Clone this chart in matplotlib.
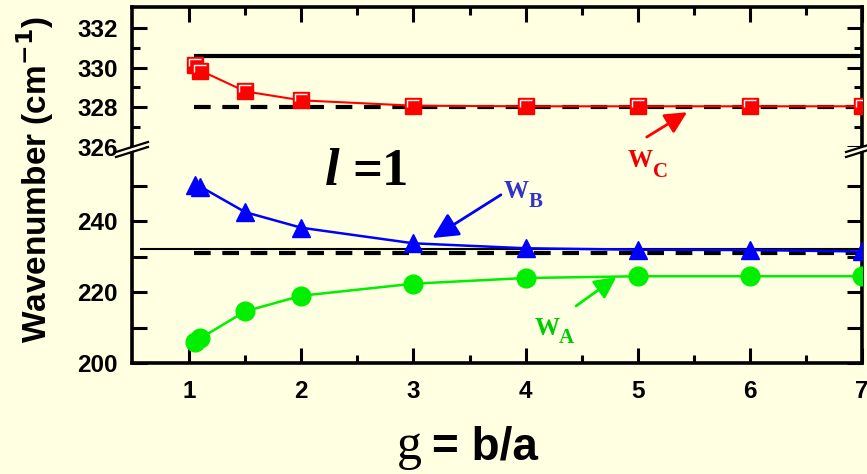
import matplotlib
matplotlib.use("Agg")
import matplotlib.pyplot as plt
from matplotlib.path import Path
from matplotlib.lines import Line2D
from matplotlib.patches import Polygon

# ---------------- data ----------------
g_C = [1.05, 1.1, 1.5, 2, 3, 4, 5, 6, 7]
w_C = [330.15, 329.85, 328.8, 328.35, 328.08, 328.05, 328.05, 328.05, 328.05]

g_B = [1.05, 1.1, 1.5, 2, 3, 4, 5, 6, 7]
w_B = [250.3, 249.8, 242.6, 238.2, 233.8, 232.4, 232.0, 231.9, 231.5]

g_A = [1.05, 1.1, 1.5, 2, 3, 4, 5, 6, 7]
w_A = [205.8, 207.0, 214.6, 219.0, 222.4, 224.0, 224.5, 224.5, 224.5]

upper_solid = 330.6
upper_dashed = 328.0
lower_solid = 232.3
lower_dashed = 231.1

x_ticks = [1, 2, 3, 4, 5, 6, 7]
upper_yticks = [326, 328, 330, 332]
lower_yticks = [200, 220, 240]

# ---------------- style ----------------
BG = "#FFFFE1"
W, H = 867, 474
plt.rcParams["font.family"] = ["Liberation Sans", "DejaVu Sans"]
plt.rcParams["font.weight"] = "bold"
plt.rcParams["mathtext.default"] = "bf"

fig = plt.figure(figsize=(W / 100, H / 100), dpi=100, facecolor=BG)

def fx(px):
    return px / W

def fy(py):
    return 1 - py / H

left, right, top, brk, bot = 132, 862, 7, 147, 363
ax_u = fig.add_axes([fx(left), fy(brk), fx(right) - fx(left), fy(top) - fy(brk)], facecolor=BG)
ax_l = fig.add_axes([fx(left), fy(bot), fx(right) - fx(left), fy(brk) - fy(bot)], facecolor=BG)

xlim = (0.49, 7.0)
for ax in (ax_u, ax_l):
    ax.set_xlim(*xlim)
    for s in ax.spines.values():
        s.set_linewidth(2.6)
    ax.set_xticks(x_ticks)
    ax.set_xticks([1.5, 2.5, 3.5, 4.5, 5.5, 6.5], minor=True)
    ax.tick_params(which="both", direction="in", width=2.2, labelsize=17.5, pad=10)
    ax.tick_params(which="major", length=11)
    ax.tick_params(which="minor", length=6)

ax_u.set_ylim(326, 333.05)
ax_u.set_yticks(upper_yticks)
ax_u.set_yticks([327, 329, 331], minor=True)
ax_u.spines["bottom"].set_visible(False)
ax_u.tick_params(axis="x", which="both", bottom=False, top=True, labelbottom=False)
ax_u.tick_params(axis="y", which="both", left=True, right=True)

ax_l.set_ylim(200, 261)
ax_l.set_yticks(lower_yticks)
ax_l.set_yticks([210, 230, 250], minor=True)
ax_l.spines["top"].set_visible(False)
ax_l.tick_params(axis="x", which="both", bottom=True, top=False, pad=12)
ax_l.tick_params(axis="y", which="both", left=True, right=True, length=11)

for ax in (ax_u, ax_l):
    for lab in ax.get_xticklabels() + ax.get_yticklabels():
        lab.set_fontweight("bold")

# reference lines
dash = (4, 2.8)
ax_u.plot([1.04, 7.0], [upper_solid] * 2, color="black", lw=3.0, solid_capstyle="butt")
ax_u.plot([1.04, 7.0], [upper_dashed] * 2, color="black", lw=3.0, dashes=dash, dash_capstyle="butt")
ax_l.plot([0.57, 7.0], [lower_solid] * 2, color="black", lw=1.5)
ax_l.plot([1.04, 7.0], [lower_dashed] * 2, color="black", lw=3.0, dashes=dash, dash_capstyle="butt")

# series
ax_u.plot(g_C, w_C, color="#FF0000", lw=1.5, marker="s", ms=11.5, mfc="#FF0000", mec="#FF0000", zorder=5)
Lmark = Path([(-0.75, -0.2), (-0.75, 0.75), (0.75, 0.75)], [Path.MOVETO, Path.LINETO, Path.LINETO])
ax_u.plot(g_C, w_C, ls="none", marker=Lmark, ms=8, mfc="none", mec="white", mew=1.0, zorder=6)

ax_l.plot(g_B, w_B, color="#0000FF", lw=1.8, marker="^", ms=13, mfc="#0000FF", mec="#0000FF", zorder=5)
ax_l.plot(g_A, w_A, color="#00EE00", lw=1.8, marker="o", ms=13.5, mfc="#00EE00", mec="#00EE00", zorder=5)

# arrows
ap = dict(arrowstyle="-|>,head_length=0.6,head_width=0.3", lw=2.0, shrinkA=0, shrinkB=0)
ax_l.annotate("", xy=(3.17, 235.3), xytext=(3.78, 247.5), arrowprops=dict(ap, color="#0000FF", mutation_scale=26))
ax_l.annotate("", xy=(4.81, 224.3), xytext=(4.45, 216.1), arrowprops=dict(ap, color="#00EE00", mutation_scale=22))
ax_u.annotate("", xy=(5.44, 327.75), xytext=(5.08, 326.5), arrowprops=dict(ap, color="#FF0000", mutation_scale=22))

# texts
serif = ["Liberation Serif", "DejaVu Serif"]
def ptext(px, py, s, **kw):
    fig.text(fx(px), fy(py), s, va="baseline", ha="left", **kw)

ptext(325, 185, "l", family=serif, fontsize=38, fontweight="bold", style="italic")
ptext(352, 185, "=1", family=serif, fontsize=38, fontweight="bold")

ptext(504, 198, "W", family=serif, fontsize=18, fontweight="bold", color="#3333CC")
ptext(529, 207, "B", family=serif, fontsize=15, fontweight="bold", color="#3333CC")
ptext(628, 167, "W", family=serif, fontsize=18, fontweight="bold", color="#EE0000")
ptext(653, 177, "C", family=serif, fontsize=15, fontweight="bold", color="#EE0000")
ptext(535, 335, "W", family=serif, fontsize=18, fontweight="bold", color="#00CC00")
ptext(559, 343, "A", family=serif, fontsize=15, fontweight="bold", color="#00CC00")

ptext(397, 459, "g", family=serif, fontsize=36, fontweight="normal")
ptext(432, 459, "= b/a", fontsize=33, fontweight="bold")

fig.text(fx(35), fy(180), "Wavenumber (cm$^{-1}$)", rotation=90, ha="center", va="center",
         fontsize=24, fontweight="bold")

# axis break marks
for xc in (left, right):
    poly = Polygon([(fx(xc - 16), fy(brk + 5)), (fx(xc + 16), fy(brk - 5)),
                    (fx(xc + 16), fy(brk - 1)), (fx(xc - 16), fy(brk + 9))],
                   closed=True, transform=fig.transFigure, facecolor=BG, edgecolor="none", zorder=10)
    fig.add_artist(poly)
    for off in (5, 10):
        fig.add_artist(Line2D([fx(xc - 16), fx(xc + 16)], [fy(brk + off), fy(brk + off - 10)],
                              transform=fig.transFigure, color="black", lw=1.6, zorder=11))

fig.savefig("out.png", dpi=100, facecolor=BG)
